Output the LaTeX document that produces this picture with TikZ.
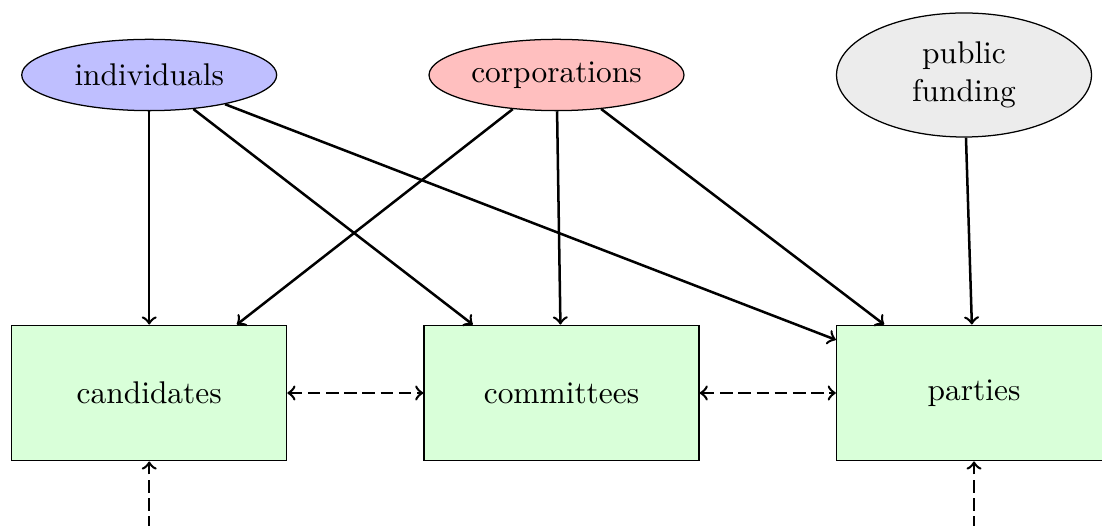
\documentclass[tikz,border=0pt]{standalone}
\usetikzlibrary{shapes.geometric}
\begin{document}
\begin{tikzpicture}[x=0.3185pt,y=-0.3185pt,
  src/.style={ellipse,draw,inner sep=0pt,minimum width=81.2pt,minimum height=22.7pt,align=center},
  sink/.style={rectangle,draw,fill=green!15,minimum width=87.6pt,minimum height=43.2pt,inner sep=0pt},
  flow/.style={->,thick},
  link/.style={<->,thick,dash pattern=on 4pt off 1.8pt},
  feed/.style={->,thick,dash pattern=on 4pt off 1.8pt}]
\useasboundingbox (0,0) rectangle (1102,526);
\clip (0,0) rectangle (1102,526);
\node[src,fill=blue!25] (ind) at (149.2,75) {individuals};
\node[src,fill=red!25] (corp) at (556.5,75) {corporations};
\node[src,fill=gray!15,minimum height=39.5pt] (pub) at (964,75) {public\\funding};
\node[sink] (cand) at (149.2,393) {candidates};
\node[sink] (comm) at (561.5,393) {committees};
\node[sink] (part) at (974,393) {parties};
\coordinate (cb) at (149.2,620);
\coordinate (pb) at (974,620);
\draw[flow] (ind) -- (cand);
\draw[flow] (ind) -- (comm);
\draw[flow] (ind) -- (part);
\draw[flow] (corp) -- (cand);
\draw[flow] (corp) -- (comm);
\draw[flow] (corp) -- (part);
\draw[flow] (pub) -- (part);
\draw[link] (cand) -- (comm);
\draw[link] (comm) -- (part);
\draw[feed] (cb) -- (cand);
\draw[feed] (pb) -- (part);
\end{tikzpicture}
\end{document}
